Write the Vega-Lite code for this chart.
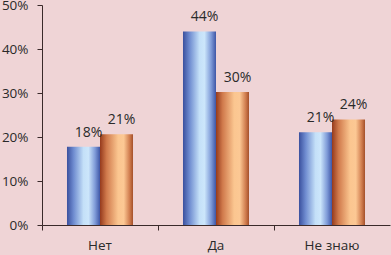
{
  "$schema": "https://vega.github.io/schema/vega-lite/v6.json",
  "width": 348,
  "height": 220,
  "autosize": {"type": "none"},
  "padding": {"left": 42, "top": 5, "right": 1, "bottom": 30},
  "background": "#efd4d6",
  "config": {
    "view": {"stroke": null},
    "font": "Open Sans",
    "axis": {"domainColor": "#3a2a2a", "tickColor": "#3a2a2a", "labelColor": "#2a2a2a", "labelFont": "Open Sans", "labelFontSize": 13.5, "grid": false, "title": null}
  },
  "data": {"values": [
    {"cat": "Нет", "s": "A", "v": 0.178},
    {"cat": "Нет", "s": "B", "v": 0.206},
    {"cat": "Да", "s": "A", "v": 0.44},
    {"cat": "Да", "s": "B", "v": 0.302},
    {"cat": "Не знаю", "s": "A", "v": 0.211},
    {"cat": "Не знаю", "s": "B", "v": 0.24}
  ]},
  "encoding": {
    "x": {"field": "cat", "type": "nominal", "sort": ["Нет", "Да", "Не знаю"],
      "scale": {"paddingInner": 0, "paddingOuter": 0},
      "axis": {"labelAngle": 0, "bandPosition": 0, "tickSize": 5, "labelPadding": 8, "ticks": true}},
    "xOffset": {"field": "s", "type": "nominal", "scale": {"domain": ["A", "B"], "paddingInner": 0, "paddingOuter": 0.757}},
    "y": {"field": "v", "type": "quantitative", "scale": {"domain": [0, 0.5]},
      "axis": {"values": [0, 0.1, 0.2, 0.3, 0.4, 0.5], "format": ".0%", "tickSize": 5, "labelPadding": 9}}
  },
  "layer": [
    {
      "transform": [{"filter": "datum.s === 'A'"}],
      "mark": {"type": "bar", "color": {"gradient": "linear", "x1": 0, "x2": 1, "y1": 0, "y2": 0,
        "stops": [
          {"offset": 0, "color": "#3a509e"},
          {"offset": 0.2, "color": "#6f8cd0"},
          {"offset": 0.5, "color": "#c4e0f8"},
          {"offset": 0.65, "color": "#cce6fb"},
          {"offset": 0.85, "color": "#7f9bd8"},
          {"offset": 1, "color": "#3e56a6"}
        ]}}
    },
    {
      "transform": [{"filter": "datum.s === 'B'"}],
      "mark": {"type": "bar", "color": {"gradient": "linear", "x1": 0, "x2": 1, "y1": 0, "y2": 0,
        "stops": [
          {"offset": 0, "color": "#953a1c"},
          {"offset": 0.2, "color": "#d07a4c"},
          {"offset": 0.55, "color": "#fbc690"},
          {"offset": 0.72, "color": "#fcc894"},
          {"offset": 0.9, "color": "#d07c4e"},
          {"offset": 1, "color": "#a4502a"}
        ]}}
    },
    {
      "mark": {"type": "text", "baseline": "bottom", "dy": -7, "dx": 5, "fontSize": 14, "color": "#2a2a2a", "font": "Open Sans"},
      "encoding": {"text": {"field": "v", "type": "quantitative", "format": ".0%"}}
    }
  ]
}
